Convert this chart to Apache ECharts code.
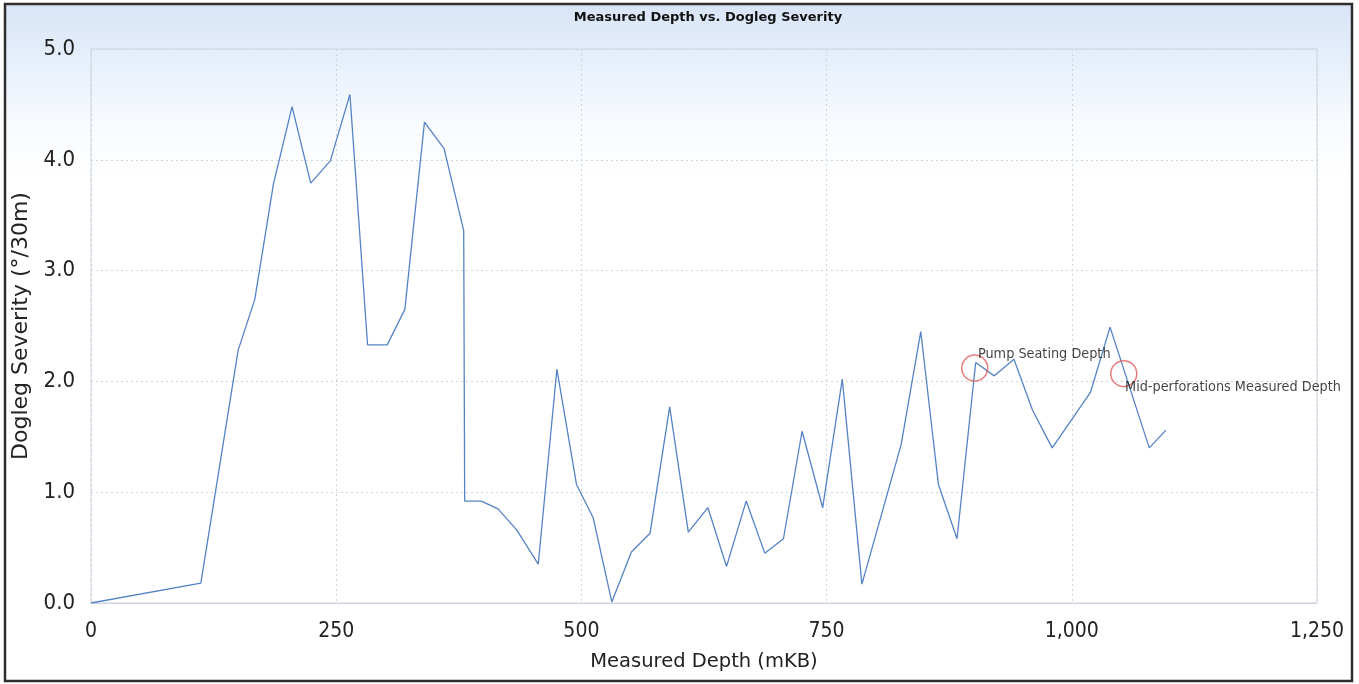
<!DOCTYPE html>
<html>
<head>
<meta charset="utf-8">
<script src="https://cdn.jsdelivr.net/npm/echarts@6/dist/echarts.min.js"></script>
<style>
html,body{margin:0;padding:0;background:#fff;}
#chart{width:1359px;height:684px;}
</style>
</head>
<body>
<div id="chart"></div>
<script>
// Measured depth (mKB)
const depths = [0, 112, 150, 167, 186, 205, 224, 244, 264, 282, 302, 320, 340, 360, 380, 381, 398, 415, 434, 456, 475, 495, 512, 531, 551, 570, 590, 609, 629, 648, 668, 687, 706, 725, 746, 766, 786, 826, 846, 864, 883, 902, 921, 941, 960, 980, 1019, 1039, 1079, 1096];
// Dogleg severity (deg/30m)
const severity = [0, 0.18, 2.28, 2.74, 3.78, 4.48, 3.79, 3.99, 4.59, 2.33, 2.33, 2.65, 4.34, 4.10, 3.36, 0.92, 0.92, 0.85, 0.66, 0.35, 2.11, 1.07, 0.77, 0.01, 0.46, 0.63, 1.77, 0.64, 0.86, 0.33, 0.92, 0.45, 0.58, 1.55, 0.86, 2.02, 0.17, 1.43, 2.45, 1.07, 0.58, 2.17, 2.05, 2.20, 1.74, 1.40, 1.90, 2.49, 1.40, 1.56];
// Annotations
const markerNames = ['Pump Seating Depth', 'Mid-perforations Measured Depth'];
const markerDepths = [901, 1053];
const markerValues = [2.12, 2.07];
const xTicks = [0, 250, 500, 750, 1000, 1250];
const yTicks = [0, 1, 2, 3, 4, 5];

const narrow = '"DejaVu Sans Condensed", "DejaVu Sans", sans-serif';
const chart = echarts.init(document.getElementById('chart'));
const lineData = depths.map((d, i) => [d, severity[i]]);
const markerData = markerDepths.map((d, i) => ({
  value: [d, markerValues[i]],
  name: markerNames[i],
  label: i === 0 ? { position: [17, 0] } : { position: [15, 27] }
}));

const gridStyle = { type: [2, 3], color: '#cfd4db', width: 1 };

chart.setOption({
  backgroundColor: '#ffffff',
  animation: false,
  title: {
    text: 'Measured Depth vs. Dogleg Severity',
    left: 703, top: 6, textAlign: 'center',
    textStyle: { fontFamily: 'DejaVu Sans', fontWeight: 'bold', fontSize: 13, color: '#111' }
  },
  graphic: [{
    type: 'rect', z: -100, silent: true,
    shape: { x: 5, y: 4, width: 1347, height: 677 },
    style: {
      fill: new echarts.graphic.LinearGradient(0, 0, 0, 1, [
        { offset: 0, color: '#d8e5f7' },
        { offset: 0.08, color: '#e5eefa' },
        { offset: 0.17, color: '#f7fafe' },
        { offset: 0.26, color: '#ffffff' },
        { offset: 1, color: '#ffffff' }
      ]),
      stroke: '#2e2e2e', lineWidth: 2.5
    }
  }],
  grid: {
    left: 91, right: 42, top: 49, bottom: 81,
    containLabel: false, outerBoundsMode: 'none',
    show: true, borderColor: '#cdd5e0', borderWidth: 1, backgroundColor: 'transparent'
  },
  xAxis: {
    type: 'value', min: 0, max: 1250, interval: 250,
    name: 'Measured Depth (mKB)', nameLocation: 'middle', nameGap: 49,
    nameTextStyle: { fontFamily: 'DejaVu Sans', fontSize: 19.5, color: '#222' },
    axisLine: { show: true, lineStyle: { color: '#cdd5e0' } },
    axisTick: { show: false },
    axisLabel: {
      margin: 18, fontFamily: narrow, fontSize: 21, color: '#222',
      formatter: v => xTicks.includes(v) ? v.toLocaleString('en-US') : ''
    },
    splitLine: { show: true, lineStyle: gridStyle }
  },
  yAxis: {
    type: 'value', min: 0, max: 5, interval: 1,
    name: 'Dogleg Severity (°/30m)', nameLocation: 'middle', nameGap: 48, nameRotate: 90,
    nameTextStyle: { fontFamily: 'DejaVu Sans', fontSize: 22, color: '#222' },
    axisLine: { show: false },
    axisTick: { show: false },
    axisLabel: {
      margin: 16, fontFamily: narrow, fontSize: 22, color: '#222',
      formatter: v => yTicks.includes(v) ? v.toFixed(1) : ''
    },
    splitLine: { show: true, lineStyle: gridStyle }
  },
  series: [{
    type: 'line', data: lineData, showSymbol: false, symbol: 'none',
    lineStyle: { color: '#5583c6', width: 1.3 }, z: 3
  }, {
    type: 'scatter', data: markerData, symbol: 'circle', symbolSize: 26,
    itemStyle: { color: 'rgba(0,0,0,0)', borderColor: '#e35b5b', borderWidth: 1.5 },
    label: {
      show: true, formatter: p => p.name, verticalAlign: 'middle', align: 'left',
      fontFamily: narrow, fontSize: 14.3, color: '#111'
    }, z: 4
  }]
});
</script>
</body>
</html>
